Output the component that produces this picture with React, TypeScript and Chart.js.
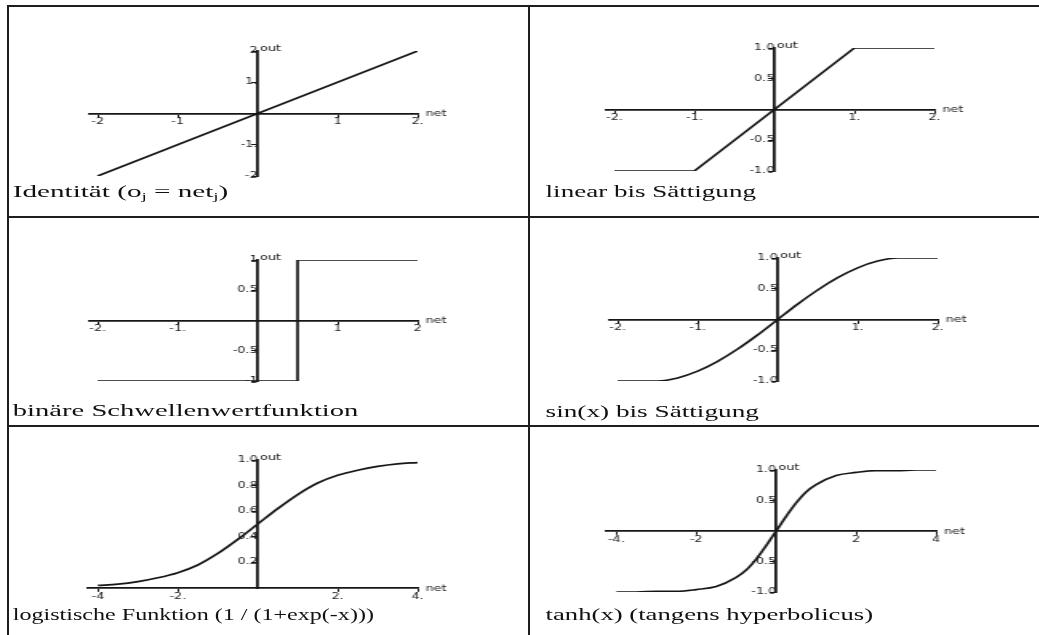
import React, { useEffect, useLayoutEffect, useRef } from "react";
import { Chart, registerables } from "chart.js";

Chart.register(...registerables);

// The sheet is laid out in a narrow frame and widened horizontally by this factor.
const STRETCH = 1.6;
const INK = "#161616";

// Identität
const identityX = [-2, 2];
const identityY = [-2, 2];
const identityXTicks = [-2, -1, 1, 2];
const identityXLabels = ["-2", "-1", "1", "2."];
const identityYTicks = [-2, -1, 1, 2];
const identityYLabels = ["-2", "-1.", "1.", "2"];

// linear bis Sättigung
const linSatX = [-2, -1, 1, 2];
const linSatY = [-1, -1, 1, 1];
const linSatXTicks = [-2, -1, 1, 2];
const linSatXLabels = ["-2.", "-1.", "1.", "2."];
const linSatYTicks = [-1, -0.5, 0.5, 1];
const linSatYLabels = ["-1.0", "-0.5", "0.5", "1.0"];

// binäre Schwellenwertfunktion
const stepX = [-2, 0.5, 0.5, 2];
const stepY = [-1, -1, 1, 1];
const stepXTicks = [-2, -1, 1, 2];
const stepXLabels = ["-2.", "-1.", "1", "2"];
const stepYTicks = [-1, -0.5, 0.5, 1];
const stepYLabels = ["-1", "-0.5", "0.5", "1"];

// sin(x) bis Sättigung
const sinSatX = [-2, -1.75, -1.5, -1.25, -1, -0.75, -0.5, -0.25, 0, 0.25, 0.5, 0.75, 1, 1.25, 1.5, 1.75, 2];
const sinSatY = [-1, -1, -1, -0.95, -0.84, -0.68, -0.48, -0.25, 0, 0.25, 0.48, 0.68, 0.84, 0.95, 1, 1, 1];
const sinSatXTicks = [-2, -1, 1, 2];
const sinSatXLabels = ["-2.", "-1.", "1.", "2."];
const sinSatYTicks = [-1, -0.5, 0.5, 1];
const sinSatYLabels = ["-1.0", "-0.5", "0.5", "1.0"];

// logistische Funktion
const logisticX = [-4, -3.5, -3, -2.5, -2, -1.5, -1, -0.5, 0, 0.5, 1, 1.5, 2, 2.5, 3, 3.5, 4];
const logisticY = [0.02, 0.03, 0.05, 0.08, 0.12, 0.18, 0.27, 0.38, 0.5, 0.62, 0.73, 0.82, 0.88, 0.92, 0.95, 0.97, 0.98];
const logisticXTicks = [-4, -2, 2, 4];
const logisticXLabels = ["-4", "-2.", "2.", "4."];
const logisticYTicks = [0.2, 0.4, 0.6, 0.8, 1];
const logisticYLabels = ["0.2", "0.4", "0.6", "0.8", "1.0"];

// tanh
const tanhX = [-4, -3.5, -3, -2.5, -2, -1.5, -1, -0.75, -0.5, -0.25, 0, 0.25, 0.5, 0.75, 1, 1.5, 2, 2.5, 3, 3.5, 4];
const tanhY = [-1, -1, -0.99, -0.99, -0.96, -0.91, -0.76, -0.64, -0.46, -0.24, 0, 0.24, 0.46, 0.64, 0.76, 0.91, 0.96, 0.99, 0.99, 1, 1];
const tanhXTicks = [-4, -2, 2, 4];
const tanhXLabels = ["-4.", "-2", "2", "4"];
const tanhYTicks = [-1, -0.5, 0.5, 1];
const tanhYLabels = ["-1.0", "-0.5", "0.5", "1.0"];

const AXIS_X_NAME = "net";
const AXIS_Y_NAME = "out";

type Panel = {
  xs: number[];
  ys: number[];
  smooth: boolean;
  xRange: [number, number];
  yRange: [number, number];
  xTicks: number[];
  xLabels: string[];
  yTicks: number[];
  yLabels: string[];
  // plot area on the page, in page pixels
  area: { left: number; top: number; right: number; bottom: number };
};

const panels: Panel[] = [
  {
    xs: identityX, ys: identityY, smooth: false,
    xRange: [-2.1, 2], yRange: [-2, 2],
    xTicks: identityXTicks, xLabels: identityXLabels,
    yTicks: identityYTicks, yLabels: identityYLabels,
    area: { left: 90, top: 51, right: 418, bottom: 176 },
  },
  {
    xs: linSatX, ys: linSatY, smooth: false,
    xRange: [-2.1, 2], yRange: [-1, 1],
    xTicks: linSatXTicks, xLabels: linSatXLabels,
    yTicks: linSatYTicks, yLabels: linSatYLabels,
    area: { left: 607, top: 48, right: 935, bottom: 171 },
  },
  {
    xs: stepX, ys: stepY, smooth: false,
    xRange: [-2.1, 2], yRange: [-1, 1],
    xTicks: stepXTicks, xLabels: stepXLabels,
    yTicks: stepYTicks, yLabels: stepYLabels,
    area: { left: 90, top: 260, right: 418, bottom: 381 },
  },
  {
    xs: sinSatX, ys: sinSatY, smooth: true,
    xRange: [-2.1, 2], yRange: [-1, 1],
    xTicks: sinSatXTicks, xLabels: sinSatXLabels,
    yTicks: sinSatYTicks, yLabels: sinSatYLabels,
    area: { left: 609, top: 258, right: 937, bottom: 381 },
  },
  {
    xs: logisticX, ys: logisticY, smooth: true,
    xRange: [-4.25, 4], yRange: [0, 1],
    xTicks: logisticXTicks, xLabels: logisticXLabels,
    yTicks: logisticYTicks, yLabels: logisticYLabels,
    area: { left: 88, top: 460, right: 418, bottom: 588 },
  },
  {
    xs: tanhX, ys: tanhY, smooth: true,
    xRange: [-4.25, 4], yRange: [-1, 1],
    xTicks: tanhXTicks, xLabels: tanhXLabels,
    yTicks: tanhYTicks, yLabels: tanhYLabels,
    area: { left: 607, top: 470, right: 937, bottom: 592 },
  },
];

const PAD = { l: 30, r: 30, t: 14, b: 14 };
const TICK_FONT = { family: "'DejaVu Sans'", size: 8 };

// Writes the axis names next to the top of the vertical axis and the end of the horizontal one.
const axisNames = {
  id: "axisNames",
  afterDraw(chart: any) {
    const { ctx, chartArea, scales } = chart;
    const x0 = scales.x.getPixelForValue(0);
    const y0 = scales.y.getPixelForValue(0);
    ctx.save();
    ctx.font = "8px 'DejaVu Sans'";
    ctx.fillStyle = INK;
    ctx.textAlign = "left";
    ctx.textBaseline = "bottom";
    ctx.fillText(AXIS_Y_NAME, x0 + 1.5, chartArea.top + 2);
    ctx.textBaseline = "middle";
    ctx.fillText(AXIS_X_NAME, chartArea.right + 5, y0 + 0.5);
    ctx.restore();
  },
};

function axisOptions(
  range: [number, number],
  ticks: number[],
  labels: string[],
  position: any
) {
  return {
    type: "linear" as const,
    min: range[0],
    max: range[1],
    position,
    afterBuildTicks: (scale: any) => {
      scale.ticks = ticks.map((value) => ({ value }));
    },
    grid: {
      display: true,
      drawOnChartArea: false,
      drawTicks: true,
      tickLength: 3,
      color: INK,
      lineWidth: 1,
    },
    border: { display: true, color: INK, width: 1.8 },
    ticks: {
      autoSkip: false,
      maxRotation: 0,
      padding: 1,
      color: "#222",
      font: TICK_FONT,
      callback: (_v: any, i: number) => labels[i] ?? "",
    },
  };
}

function Plot({ panel }: { panel: Panel }) {
  const ref = useRef<HTMLCanvasElement | null>(null);
  const { area } = panel;
  const left = Math.round(area.left / STRETCH - PAD.l);
  const width = Math.round((area.right - area.left) / STRETCH + PAD.l + PAD.r);
  const top = Math.round(area.top - PAD.t);
  const height = Math.round(area.bottom - area.top + PAD.t + PAD.b);

  useEffect(() => {
    if (!ref.current) return;
    const points = panel.xs.map((x, i) => ({ x, y: panel.ys[i] }));
    const chart = new Chart(ref.current, {
      type: "line",
      data: {
        datasets: [
          {
            data: points,
            borderColor: INK,
            borderWidth: 1.7,
            pointRadius: 0,
            fill: false,
            tension: 0,
            cubicInterpolationMode: panel.smooth ? "monotone" : "default",
          },
        ],
      },
      options: {
        animation: false,
        responsive: false,
        devicePixelRatio: 1,
        events: [],
        layout: { padding: { left: PAD.l, right: PAD.r, top: PAD.t, bottom: PAD.b } },
        plugins: {
          legend: { display: false },
          tooltip: { enabled: false },
        },
        scales: {
          x: axisOptions(panel.xRange, panel.xTicks, panel.xLabels, { y: 0 }),
          y: axisOptions(panel.yRange, panel.yTicks, panel.yLabels, { x: 0 }),
        },
      } as any,
      plugins: [axisNames],
    });
    return () => chart.destroy();
  }, [panel]);

  return (
    <canvas
      ref={ref}
      width={width}
      height={height}
      style={{ position: "absolute", left, top, width, height }}
    />
  );
}

// A caption set in the serif face and fitted to the given page width.
function Caption({
  x,
  y,
  fitWidth,
  children,
}: {
  x: number;
  y: number;
  fitWidth: number;
  children: React.ReactNode;
}) {
  const ref = useRef<HTMLDivElement | null>(null);
  useLayoutEffect(() => {
    const el = ref.current;
    if (!el) return;
    const natural = el.scrollWidth;
    if (natural > 0) {
      el.style.transform = `scaleX(${fitWidth / STRETCH / natural})`;
    }
  }, [fitWidth]);
  return (
    <div
      ref={ref}
      style={{
        position: "absolute",
        left: x / STRETCH,
        top: y,
        fontFamily: "'Liberation Serif', serif",
        fontSize: 17,
        lineHeight: "18px",
        color: "#111",
        whiteSpace: "nowrap",
        transformOrigin: "0 0",
      }}
    >
      {children}
    </div>
  );
}

const subStyle: React.CSSProperties = { fontSize: 11, verticalAlign: -3, lineHeight: 0 };

function Rule({ x, y, w, h }: { x: number; y: number; w: number; h: number }) {
  return (
    <div style={{ position: "absolute", left: x, top: y, width: w, height: h, background: "#1e1e1e" }} />
  );
}

export default function App() {
  return (
    <div
      style={{
        position: "absolute",
        left: 0,
        top: 0,
        width: 1039,
        height: 635,
        overflow: "hidden",
        background: "#fff",
      }}
    >
      {/* table rules */}
      <Rule x={7} y={5} w={1032} h={2} />
      <Rule x={7} y={5} w={2} h={630} />
      <Rule x={528} y={5} w={2} h={630} />
      <Rule x={7} y={216} w={1032} h={2} />
      <Rule x={7} y={425} w={1032} h={2} />

      <div
        style={{
          position: "absolute",
          left: 0,
          top: 0,
          width: 1039 / STRETCH,
          height: 635,
          transform: `scaleX(${STRETCH})`,
          transformOrigin: "0 0",
        }}
      >
        {panels.map((p, i) => (
          <Plot key={i} panel={p} />
        ))}

        <Caption x={12} y={183} fitWidth={216}>
          Identität (o<sub style={subStyle}>j</sub> = net<sub style={subStyle}>j</sub>)
        </Caption>
        <Caption x={545} y={183} fitWidth={210}>linear bis Sättigung</Caption>
        <Caption x={12} y={402} fitWidth={345}>binäre Schwellenwertfunktion</Caption>
        <Caption x={545} y={403} fitWidth={213}>sin(x) bis Sättigung</Caption>
        <Caption x={12} y={606} fitWidth={361}>logistische Funktion (1 / (1+exp(-x)))</Caption>
        <Caption x={545} y={606} fitWidth={328}>tanh(x) (tangens hyperbolicus)</Caption>
      </div>
    </div>
  );
}
